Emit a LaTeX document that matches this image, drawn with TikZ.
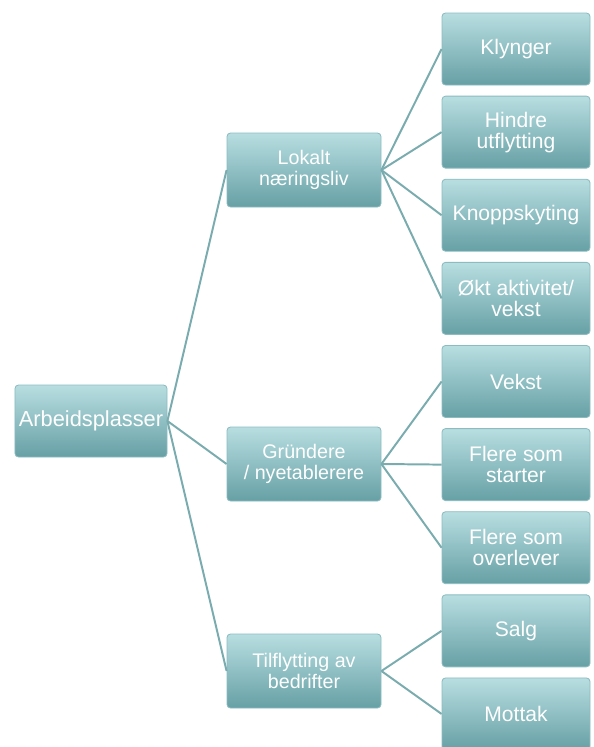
\documentclass[tikz,border=0pt]{standalone}
\usepackage{fontspec}
\setmainfont{Liberation Sans}
\definecolor{boxtop}{RGB}{184,222,225}
\definecolor{boxbot}{RGB}{102,160,165}
\definecolor{boxedge}{RGB}{140,188,192}
\definecolor{linkcol}{RGB}{122,172,175}
\tikzset{
  box/.style={rectangle, rounded corners=2.5pt, draw=boxedge, line width=.6pt, top color=boxtop, bottom color=boxbot,
    text=white, align=center, inner sep=0pt},
  rootbox/.style={box, minimum width=3.8cm, minimum height=1.8cm, font=\fontsize{15.5}{15}\selectfont},
  midbox/.style={box, minimum width=3.85cm, minimum height=1.85cm, font=\fontsize{14}{14.5}\selectfont},
  leafbox/.style={box, minimum width=3.7cm, minimum height=1.8cm, font=\fontsize{15}{15}\selectfont},
  link/.style={draw=linkcol, line width=1.4pt}
}
\begin{document}
\begin{tikzpicture}
\useasboundingbox (0,0) rectangle (14.825,-18.675);
\node[rootbox] (root) at (2.275,-10.525) {Arbeidsplasser};
\node[midbox] (lokalt) at (7.6,-4.25) {Lokalt\\næringsliv};
\node[midbox] (grunder) at (7.6,-11.6) {Gründere\\/ nyetablerere};
\node[midbox] (tilflytt) at (7.6,-16.775) {Tilflytting av\\bedrifter};
\node[leafbox] (klynger) at (12.9,-1.225) {Klynger};
\node[leafbox] (hindre) at (12.9,-3.303) {Hindre\\utflytting};
\node[leafbox] (knopp) at (12.9,-5.381) {Knoppskyting};
\node[leafbox] (okt) at (12.9,-7.459) {Økt aktivitet/\\vekst};
\node[leafbox] (vekst) at (12.9,-9.537) {Vekst};
\node[leafbox] (starter) at (12.9,-11.615) {Flere som\\starter};
\node[leafbox] (overlever) at (12.9,-13.693) {Flere som\\overlever};
\node[leafbox] (salg) at (12.9,-15.771) {Salg};
\node[leafbox] (mottak) at (12.9,-17.849) {Mottak};
\foreach \c in {lokalt,grunder,tilflytt} \draw[link] (root.east)--(\c.west);
\foreach \c in {klynger,hindre,knopp,okt} \draw[link] (lokalt.east)--(\c.west);
\foreach \c in {vekst,starter,overlever} \draw[link] (grunder.east)--(\c.west);
\foreach \c in {salg,mottak} \draw[link] (tilflytt.east)--(\c.west);
\end{tikzpicture}
\end{document}
